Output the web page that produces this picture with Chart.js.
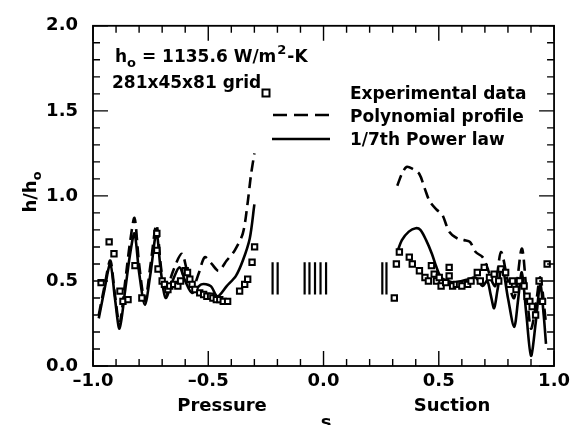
<!DOCTYPE html>
<html><head><meta charset="utf-8">
<script src="https://cdn.jsdelivr.net/npm/chart.js@4/dist/chart.umd.min.js"></script>
<style>html,body{margin:0;padding:0;background:#fff}#c{display:block}</style>
</head><body>
<canvas id="c" width="575" height="425"></canvas>
<script>
// ---- data ----
const expS = [-0.965,-0.93,-0.909,-0.883,-0.87,-0.848,-0.818,-0.788,-0.723,-0.723,-0.718,-0.70,-0.69,-0.675,-0.667,-0.65,-0.632,-0.62,-0.60,-0.59,-0.58,-0.57,-0.558,-0.537,-0.52,-0.506,-0.49,-0.48,-0.465,-0.45,-0.435,-0.416,-0.364,-0.342,-0.329,-0.31,-0.299,
  0.307,0.316,0.329,0.372,0.385,0.416,0.44,0.455,0.468,0.48,0.49,0.502,0.51,0.53,0.545,0.545,0.56,0.576,0.59,0.60,0.625,0.64,0.667,0.68,0.697,0.72,0.74,0.76,0.77,0.79,0.805,0.82,0.835,0.85,0.87,0.883,0.895,0.905,0.92,0.935,0.95,0.97];
const expH = [0.49,0.73,0.66,0.44,0.38,0.39,0.59,0.40,0.78,0.68,0.57,0.50,0.48,0.45,0.47,0.48,0.47,0.50,0.56,0.55,0.51,0.48,0.45,0.43,0.42,0.41,0.41,0.40,0.39,0.39,0.38,0.38,0.44,0.48,0.51,0.61,0.70,
  0.40,0.60,0.67,0.64,0.60,0.56,0.52,0.50,0.59,0.54,0.50,0.52,0.47,0.49,0.58,0.53,0.47,0.48,0.48,0.47,0.48,0.50,0.55,0.50,0.58,0.52,0.54,0.50,0.57,0.55,0.48,0.50,0.45,0.50,0.47,0.41,0.38,0.35,0.30,0.50,0.38,0.60];

const polyS = [-0.975,-0.95,-0.925,-0.905,-0.885,-0.86,-0.84,-0.82,-0.80,-0.775,-0.75,-0.725,-0.705,-0.685,-0.655,-0.615,-0.59,-0.565,-0.54,-0.515,-0.485,-0.455,-0.42,-0.385,-0.35,-0.33,-0.315,-0.30,
  null,
  0.32,0.34,0.36,0.385,0.415,0.44,0.46,0.49,0.515,0.545,0.58,0.61,0.635,0.66,0.69,0.71,0.73,0.745,0.77,0.80,0.827,0.86,0.88,0.90,0.92,0.94,0.965];
const polyH = [0.30,0.47,0.62,0.42,0.25,0.50,0.72,0.87,0.60,0.38,0.60,0.83,0.58,0.42,0.55,0.66,0.55,0.47,0.55,0.64,0.60,0.56,0.62,0.68,0.78,0.95,1.12,1.25,
  null,
  1.06,1.13,1.17,1.16,1.13,1.04,0.97,0.92,0.89,0.79,0.75,0.74,0.73,0.67,0.64,0.58,0.50,0.47,0.67,0.50,0.40,0.69,0.45,0.22,0.35,0.52,0.25];

const powS = [-0.975,-0.95,-0.925,-0.905,-0.885,-0.86,-0.84,-0.82,-0.80,-0.775,-0.75,-0.725,-0.705,-0.685,-0.655,-0.625,-0.60,-0.57,-0.53,-0.49,-0.46,-0.42,-0.38,-0.35,-0.32,-0.30,
  null,
  0.32,0.34,0.37,0.40,0.42,0.445,0.47,0.49,0.51,0.54,0.57,0.60,0.63,0.66,0.69,0.71,0.725,0.74,0.755,0.775,0.80,0.827,0.845,0.86,0.88,0.90,0.92,0.94,0.955,0.965];
const powH = [0.28,0.45,0.60,0.40,0.22,0.45,0.65,0.78,0.55,0.36,0.55,0.78,0.55,0.40,0.50,0.58,0.50,0.43,0.48,0.47,0.41,0.47,0.53,0.62,0.75,0.95,
  null,
  0.67,0.74,0.79,0.81,0.80,0.74,0.66,0.58,0.52,0.50,0.49,0.50,0.51,0.52,0.47,0.50,0.42,0.34,0.45,0.58,0.40,0.23,0.40,0.55,0.30,0.06,0.25,0.48,0.30,0.13];

// small vertical marks in the middle (gauge locations)
const markS = [-0.221,-0.199,-0.082,-0.061,-0.037,-0.013,0.011,0.255,0.273];
const markLo = 0.42, markHi = 0.61;

const xTickVals = [-1.0,-0.5,0.0,0.5,1.0];
const yTickVals = [0.0,0.5,1.0,1.5,2.0];
const xTickLabels = ['–1.0','–0.5','0.0','0.5','1.0'];
const yTickLabels = ['0.0','0.5','1.0','1.5','2.0'];
const seriesNames = ['Experimental data','Polynomial profile','1/7th Power law'];
const sideLabels = ['Pressure','Suction'];

// ---- build ----
const pts = (xs, ys) => xs.map((v,i)=>({x: v===null?NaN:v, y: ys[i]}));
const markPts = [];
markS.forEach(s=>{ markPts.push({x:s,y:markLo},{x:s,y:markHi},{x:s,y:null}); });

const FONT = '"DejaVu Sans", Verdana, sans-serif';

const deco = {
  id:'deco',
  afterDatasetsDraw(chart){
    const {ctx, chartArea:a, scales:{x,y}} = chart;
    ctx.save();
    ctx.strokeStyle='#000'; ctx.lineWidth=1.8;
    ctx.strokeRect(a.left,a.top,a.right-a.left,a.bottom-a.top);
    ctx.lineWidth=1.4;
    for(let i=-10;i<=10;i++){
      const v=i/10, px=x.getPixelForValue(v), L=(i%5===0)?15:7;
      ctx.beginPath();
      ctx.moveTo(px,a.bottom); ctx.lineTo(px,a.bottom-L);
      ctx.moveTo(px,a.top); ctx.lineTo(px,a.top+L);
      ctx.stroke();
    }
    for(let i=0;i<=20;i++){
      const v=i/10, py=y.getPixelForValue(v), L=(i%5===0)?15:7;
      ctx.beginPath();
      ctx.moveTo(a.left,py); ctx.lineTo(a.left+L,py);
      ctx.moveTo(a.right,py); ctx.lineTo(a.right-L,py);
      ctx.stroke();
    }
    // annotation
    ctx.fillStyle='#000';
    ctx.textBaseline='alphabetic'; ctx.textAlign='left';
    const big='bold 17px '+FONT, small='bold 13px '+FONT;
    let cx=115, by=62;
    ctx.font=big; ctx.fillText('h',cx,by); cx+=ctx.measureText('h').width;
    ctx.font=small; ctx.fillText('o',cx,by+5); cx+=ctx.measureText('o').width;
    ctx.font=big; const t1=' = 1135.6 W/m'; ctx.fillText(t1,cx,by); cx+=ctx.measureText(t1).width;
    ctx.font=small; ctx.fillText('2',cx+1,by-8); cx+=ctx.measureText('2').width+2;
    ctx.font=big; ctx.fillText('-K',cx,by);
    ctx.fillText('281x45x81 grid',112,88);
    // legend
    const ds = chart.data.datasets;
    ctx.font=big;
    ctx.fillText(ds[0].label,350,99);
    ctx.fillText(ds[1].label,350,122);
    ctx.fillText(ds[2].label,350,145);
    ctx.lineWidth=2; ctx.fillStyle='#fff';
    ctx.fillRect(262.5,89.5,7,7); ctx.strokeRect(262.5,89.5,7,7);
    ctx.fillStyle='#000';
    ctx.lineWidth=2.6; ctx.setLineDash([14,7]);
    ctx.beginPath(); ctx.moveTo(273,115); ctx.lineTo(330,115); ctx.stroke();
    ctx.setLineDash([]);
    ctx.beginPath(); ctx.moveTo(272,139); ctx.lineTo(330,139); ctx.stroke();
    // axis labels
    ctx.textAlign='center';
    ctx.font='bold 18px '+FONT;
    ctx.fillText(sideLabels[0],222,411);
    ctx.fillText(sideLabels[1],452,411);
    ctx.fillText('s',326,428);
    // y title
    ctx.save();
    ctx.translate(36,192); ctx.rotate(-Math.PI/2);
    ctx.textAlign='left';
    const yb='bold 18px '+FONT;
    ctx.font=yb; const w1=ctx.measureText('h/h').width;
    ctx.font=small; const w2=ctx.measureText('o').width;
    let sx=-(w1+w2)/2;
    ctx.font=yb; ctx.fillText('h/h',sx,0);
    ctx.font=small; ctx.fillText('o',sx+w1,5);
    ctx.restore();
    ctx.restore();
  }
};

new Chart(document.getElementById('c'),{
  type:'scatter',
  data:{datasets:[
    {label:seriesNames[0], data:pts(expS,expH), showLine:false, pointStyle:'rect', pointRadius:3.8, pointBorderWidth:2,
     borderColor:'#000', backgroundColor:'#fff', order:0},
    {label:seriesNames[1], data:pts(polyS,polyH), showLine:true, spanGaps:false, borderColor:'#000', borderWidth:2.6,
     borderDash:[11,6], pointRadius:0, tension:0.3, fill:false, order:2},
    {label:seriesNames[2], data:pts(powS,powH), showLine:true, spanGaps:false, borderColor:'#000', borderWidth:2.6,
     pointRadius:0, tension:0.3, fill:false, order:1},
    {label:'marks', data:markPts, showLine:true, spanGaps:false, borderColor:'#000', borderWidth:2.2, pointRadius:0, order:3}
  ]},
  options:{
    responsive:false, animation:false,
    layout:{padding:{left:0,top:18,right:20,bottom:0}},
    plugins:{legend:{display:false}, tooltip:{enabled:false}},
    scales:{
      x:{type:'linear', min:-1, max:1,
         afterFit(s){s.height=59;},
         afterBuildTicks(s){s.ticks=xTickVals.map(v=>({value:v}));},
         grid:{display:false, drawTicks:false}, border:{display:false},
         ticks:{padding:5, color:'#000', font:{family:FONT,size:18,weight:'bold'}, maxRotation:0,
           callback:(v)=>{const i=xTickVals.findIndex(t=>Math.abs(t-v)<1e-9); return i>=0?xTickLabels[i]:'';}}},
      y:{type:'linear', min:0, max:2,
         afterFit(s){s.width=93;},
         afterBuildTicks(s){s.ticks=yTickVals.map(v=>({value:v}));},
         grid:{display:false, drawTicks:false}, border:{display:false},
         ticks:{padding:15, color:'#000', font:{family:FONT,size:18,weight:'bold'},
           callback:(v)=>{const i=yTickVals.findIndex(t=>Math.abs(t-v)<1e-9); return i>=0?yTickLabels[i]:'';}}}
    }
  },
  plugins:[deco]
});
</script>
</body></html>
